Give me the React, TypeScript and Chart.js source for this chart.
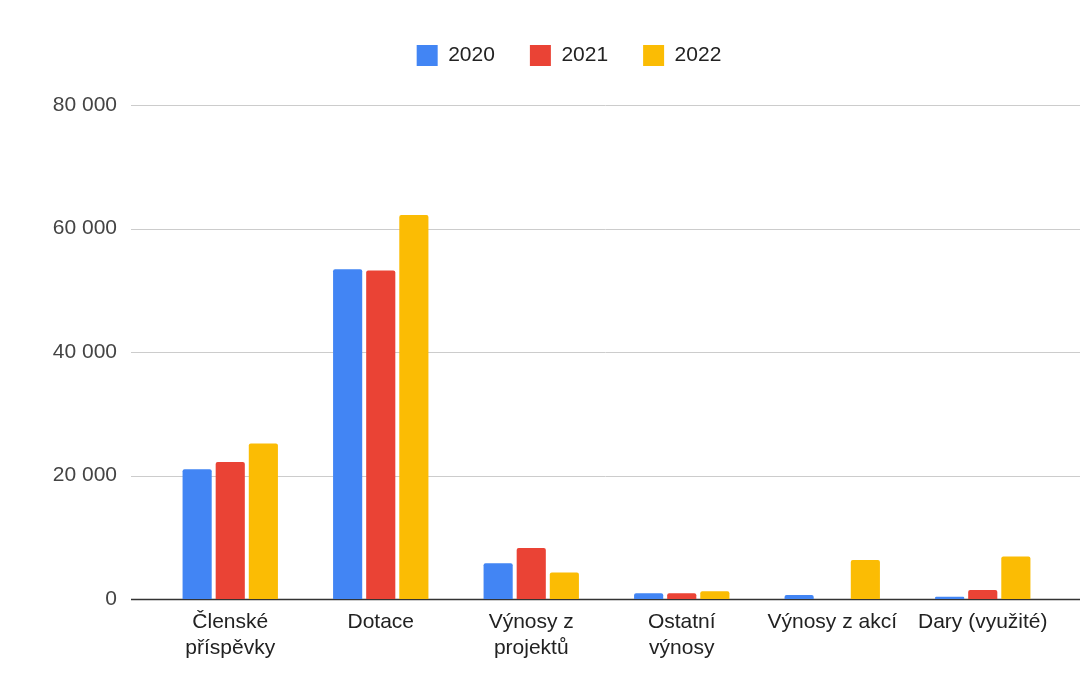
import React, { useEffect, useRef } from "react";
import { Chart, registerables } from "chart.js";

Chart.register(...registerables);

const categories: string[][] = [
  ["Členské", "příspěvky"],
  ["Dotace"],
  ["Výnosy z", "projektů"],
  ["Ostatní", "výnosy"],
  ["Výnosy z akcí"],
  ["Dary (využité)"],
];
const seriesNames = ["2020", "2021", "2022"];
const values2020 = [21000, 53400, 5800, 920, 650, 380];
const values2021 = [22200, 53200, 8260, 920, 0, 1460];
const values2022 = [25200, 62200, 4300, 1240, 6300, 6900];
const seriesColors = ["#4285F4", "#EA4335", "#FBBC04"];
const yTicks = [0, 20000, 40000, 60000, 80000];

const FONT = "'Liberation Sans', Arial, sans-serif";
const LEGEND_SHIFT = 40;

const gridPlugin = {
  id: "extGrid",
  beforeInit(chart: any) {
    const legend = chart.legend;
    if (legend) {
      const origFit = legend.fit;
      legend.fit = function () {
        origFit.call(this);
        this.height = 95;
      };
    }
  },
  afterLayout(chart: any) {
    const legend = chart.legend;
    if (legend) {
      legend.left += LEGEND_SHIFT;
      legend.right += LEGEND_SHIFT;
    }
  },
  beforeDatasetsDraw(chart: any) {
    const { ctx } = chart;
    const y = chart.scales.y;
    ctx.save();
    yTicks.forEach((v) => {
      const py = Math.round(y.getPixelForValue(v)) + 0.5;
      ctx.beginPath();
      ctx.strokeStyle = v === 0 ? "#333333" : "#cccccc";
      ctx.lineWidth = v === 0 ? 1.5 : 1;
      ctx.moveTo(131, py);
      ctx.lineTo(chart.width, py);
      ctx.stroke();
    });
    ctx.restore();
  },
};

export default function App() {
  const ref = useRef<HTMLCanvasElement | null>(null);
  useEffect(() => {
    if (!ref.current) return;
    const datasets = [values2020, values2021, values2022].map((d, i) => ({
      label: seriesNames[i],
      data: d,
      backgroundColor: seriesColors[i],
      borderWidth: 0,
      borderRadius: 2,
      barPercentage: 0.88,
      categoryPercentage: 0.66,
    }));
    const chart = new Chart(ref.current, {
      type: "bar",
      data: { labels: categories, datasets },
      plugins: [gridPlugin],
      options: {
        animation: false,
        responsive: false,
        maintainAspectRatio: false,
        layout: { padding: { top: 10, right: 22, bottom: 0, left: 0 } },
        plugins: {
          tooltip: { enabled: false },
          legend: {
            position: "top",
            align: "center",
            labels: {
              boxWidth: 21,
              boxHeight: 21,
              padding: 35,
              color: "#222222",
              font: { family: FONT, size: 21 },
            },
          },
        },
        scales: {
          x: {
            grid: { display: false, drawTicks: false },
            border: { display: false },
            ticks: {
              color: "#222222",
              font: { family: FONT, size: 21, lineHeight: 1.2 },
              padding: 11,
              maxRotation: 0,
              autoSkip: false,
            },
            afterFit(scale: any) {
              scale.height = 85;
            },
          },
          y: {
            min: 0,
            max: 80000,
            grid: { display: false, drawTicks: false },
            border: { display: false },
            ticks: {
              stepSize: 20000,
              color: "#444444",
              padding: 38,
              font: { family: FONT, size: 21 },
              callback: (v: any) =>
                String(v).replace(/\B(?=(\d{3})+(?!\d))/g, " "),
            },
            afterFit(scale: any) {
              scale.width = 155;
            },
          },
        },
      },
    });
    return () => chart.destroy();
  }, []);
  return (
    <div style={{ position: "fixed", left: 0, top: 0, width: 1080, height: 684, background: "#fff" }}>
      <canvas ref={ref} width={1080} height={684} style={{ width: 1080, height: 684 }} />
    </div>
  );
}
